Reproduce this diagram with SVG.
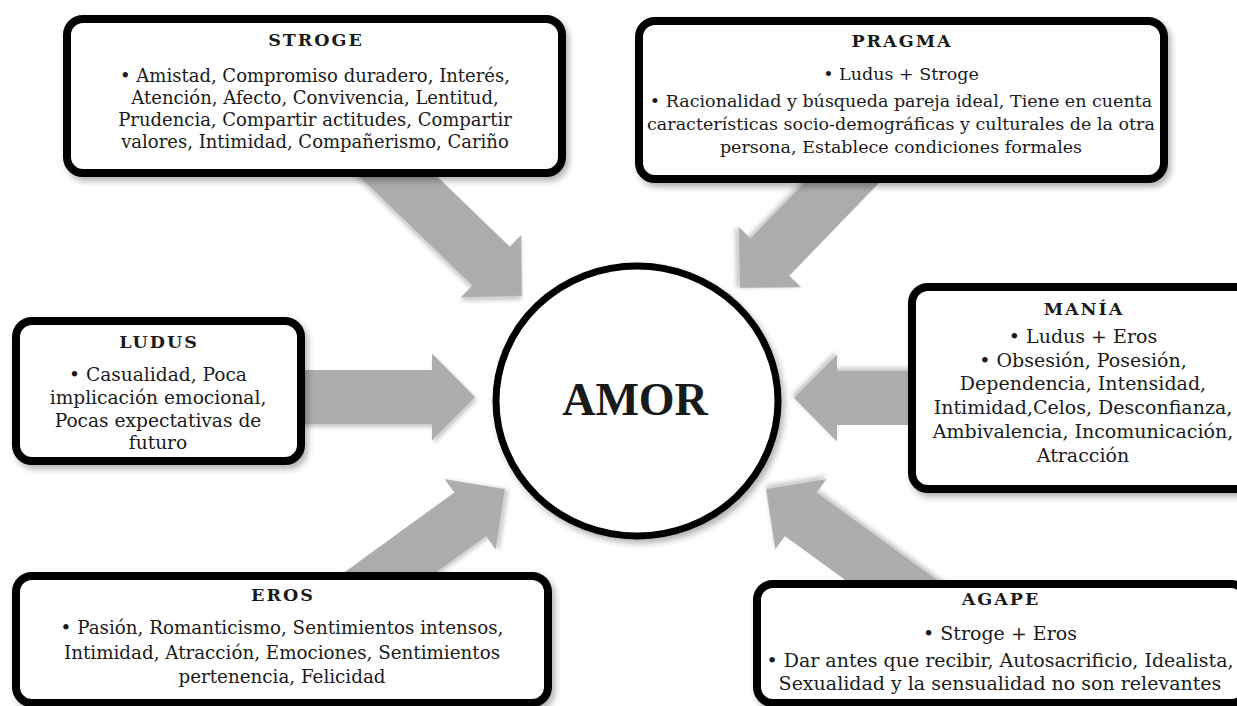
<svg xmlns="http://www.w3.org/2000/svg" width="1237" height="706" viewBox="0 0 1237 706">
<defs>
<filter id="bs" x="-10%" y="-10%" width="125%" height="130%">
<feDropShadow dx="3" dy="4" stdDeviation="3" flood-color="#000" flood-opacity="0.3"/>
</filter>
<filter id="as" x="-20%" y="-20%" width="140%" height="140%">
<feDropShadow dx="2" dy="3" stdDeviation="2" flood-color="#000" flood-opacity="0.22"/>
</filter>
<path id="arr" d="M-220,-27 H-43 V-43.5 L0,0 L-43,43.5 V27 H-220 Z"/>
</defs>
<style>
.box{fill:#fff;stroke:#000;stroke-width:8;filter:url(#bs)}
.arrow{fill:#adadad;filter:url(#as)}
text{font-family:"DejaVu Serif","Liberation Serif",serif;fill:#1a1a1a;text-anchor:middle}
.t{font-weight:bold;font-size:17.5px;letter-spacing:2px}
</style>
<rect width="1237" height="706" fill="#fff"/>
<g id="connectors">
<use href="#arr" class="arrow" transform="translate(522,296) rotate(44)"/>
<use href="#arr" class="arrow" transform="translate(740,288) rotate(134)"/>
<use href="#arr" class="arrow" transform="translate(475,397)"/>
<use href="#arr" class="arrow" transform="translate(794,398) rotate(180)"/>
<use href="#arr" class="arrow" transform="translate(505,489) rotate(-36)"/>
<use href="#arr" class="arrow" transform="translate(766,489) rotate(216)"/>
</g>
<g id="amor">
<ellipse cx="637" cy="401" rx="141" ry="135" fill="#fff" stroke="#000" stroke-width="7" filter="url(#bs)"/>
<text x="635" y="415" style="font-family:'Liberation Serif',serif;font-weight:bold;font-size:46px">AMOR</text>
</g>
<g id="stroge">
<rect class="box" x="67" y="19" width="495" height="154" rx="16"/>
<text class="t" x="316" y="46">STROGE</text>
<g style="font-size:18px">
<text x="315" y="82">• Amistad, Compromiso duradero, Interés,</text>
<text x="315" y="104">Atención, Afecto, Convivencia, Lentitud,</text>
<text x="315" y="126">Prudencia, Compartir actitudes, Compartir</text>
<text x="315" y="148">valores, Intimidad, Compañerismo, Cariño</text>
</g>
</g>
<g id="pragma">
<rect class="box" x="639" y="21" width="525" height="158" rx="16"/>
<text class="t" x="902" y="47">PRAGMA</text>
<g style="font-size:17.5px">
<text x="901" y="80">• Ludus + Stroge</text>
<text x="901" y="107">• Racionalidad y búsqueda pareja ideal, Tiene en cuenta</text>
<text x="901" y="130">características socio-demográficas y culturales de la otra</text>
<text x="901" y="153">persona, Establece condiciones formales</text>
</g>
</g>
<g id="ludus">
<rect class="box" x="16" y="321" width="285" height="140" rx="16"/>
<text class="t" x="159" y="348">LUDUS</text>
<g style="font-size:18.6px">
<text x="158" y="381">• Casualidad, Poca</text>
<text x="158" y="404">implicación emocional,</text>
<text x="158" y="427">Pocas expectativas de</text>
<text x="158" y="449">futuro</text>
</g>
</g>
<g id="mania">
<rect class="box" x="912" y="287" width="344" height="202" rx="16"/>
<text class="t" x="1084" y="315">MANÍA</text>
<g style="font-size:19px">
<text x="1083" y="343">• Ludus + Eros</text>
<text x="1083" y="367">• Obsesión, Posesión,</text>
<text x="1083" y="390">Dependencia, Intensidad,</text>
<text x="1083" y="414">Intimidad,Celos, Desconfianza,</text>
<text x="1083" y="438">Ambivalencia, Incomunicación,</text>
<text x="1083" y="462">Atracción</text>
</g>
</g>
<g id="eros">
<rect class="box" x="16" y="576" width="532" height="127" rx="16"/>
<text class="t" x="283" y="601">EROS</text>
<g style="font-size:18.3px">
<text x="282" y="634">• Pasión, Romanticismo, Sentimientos intensos,</text>
<text x="282" y="659">Intimidad, Atracción, Emociones, Sentimientos</text>
<text x="282" y="683">pertenencia, Felicidad</text>
</g>
</g>
<g id="agape">
<rect class="box" x="757" y="584" width="490" height="119" rx="16"/>
<text class="t" x="1001" y="605">AGAPE</text>
<g style="font-size:19px">
<text x="1000" y="640">• Stroge + Eros</text>
<text x="1000" y="667">• Dar antes que recibir, Autosacrificio, Idealista,</text>
<text x="1000" y="690">Sexualidad y la sensualidad no son relevantes</text>
</g>
</g>
</svg>
